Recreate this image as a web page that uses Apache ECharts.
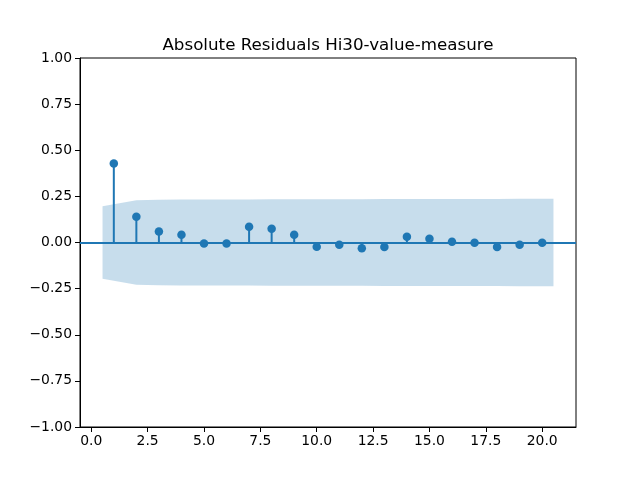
<!DOCTYPE html>
<html>
<head>
<meta charset="utf-8">
<script src="https://cdn.jsdelivr.net/npm/echarts@6/dist/echarts.min.js"></script>
<style>html,body{margin:0;padding:0;background:#fff}#c{width:640px;height:480px}</style>
</head>
<body>
<div id="c"></div>
<script>
var lags = [1,2,3,4,5,6,7,8,9,10,11,12,13,14,15,16,17,18,19,20];
var acfValues = [0.428,0.139,0.059,0.042,-0.006,-0.006,0.085,0.074,0.042,-0.023,-0.012,-0.031,-0.025,0.031,0.020,0.004,-0.002,-0.025,-0.012,-0.002];
var bandX = [0.5,2,3,4,5,6,7,8,9,10,11,12,13,14,15,16,17,18,19,20.5];
var bandUpper = [0.196,0.229,0.232,0.233,0.233,0.233,0.233,0.234,0.235,0.235,0.235,0.235,0.236,0.236,0.236,0.236,0.236,0.236,0.237,0.237];
var xTicks = [0,2.5,5,7.5,10,12.5,15,17.5,20];
var yTicks = [-1,-0.75,-0.5,-0.25,0,0.25,0.5,0.75,1];
var titleText = 'Absolute Residuals Hi30-value-measure';

var C = '#1f77b4';
var font = 'DejaVu Sans';
function fmt(v, d){ var s = Math.abs(v).toFixed(d); return (v < 0 ? '\u2212' : '') + s; }

var chart = echarts.init(document.getElementById('c'), null, {renderer:'canvas'});
chart.setOption({
  animation:false,
  backgroundColor:'#fff',
  title:{text:titleText,left:323,top:32,textAlign:'center',
    textStyle:{fontFamily:font,fontSize:16.7,fontWeight:'normal',color:'#000'}},
  grid:{left:80,right:64,top:58,bottom:53,show:true,borderColor:'#000',borderWidth:1,backgroundColor:'transparent',containLabel:false},
  xAxis:{type:'value',min:-0.5,max:21.5,
    splitLine:{show:false},
    axisLine:{show:true,onZero:false,lineStyle:{color:'#000',width:1}},
    axisTick:{show:true,length:5,lineStyle:{color:'#000'},customValues:xTicks},
    axisLabel:{show:true,customValues:xTicks,margin:7,fontFamily:font,fontSize:13.9,color:'#000',
      formatter:function(v){return fmt(v,1);}}
  },
  yAxis:{type:'value',min:-1,max:1,
    splitLine:{show:false},
    axisLine:{show:true,onZero:false,lineStyle:{color:'#000',width:1}},
    axisTick:{show:true,length:5,lineStyle:{color:'#000'},customValues:yTicks},
    axisLabel:{show:true,customValues:yTicks,margin:8,fontFamily:font,fontSize:13.9,color:'#000',
      formatter:function(v){return fmt(v,2);}}
  },
  series:[
    {type:'line',z:1,symbol:'none',silent:true,
      data:bandX.map(function(x,i){return [x,bandUpper[i]];}),
      lineStyle:{width:0,opacity:0},
      areaStyle:{color:'rgba(31,119,180,0.25)',opacity:1,origin:0}},
    {type:'line',z:1,symbol:'none',silent:true,
      data:bandX.map(function(x,i){return [x,-bandUpper[i]];}),
      lineStyle:{width:0,opacity:0},
      areaStyle:{color:'rgba(31,119,180,0.25)',opacity:1,origin:0}},
    {type:'custom',z:3,silent:true,
      data:lags.map(function(x,i){return [x,acfValues[i]];}),
      renderItem:function(params,api){
        var p0 = api.coord([api.value(0),0]);
        var p1 = api.coord([api.value(0),api.value(1)]);
        return {type:'line',shape:{x1:p0[0],y1:p0[1],x2:p1[0],y2:p1[1]},
          style:{stroke:C,lineWidth:2}};
      }},
    {type:'scatter',z:4,symbol:'circle',symbolSize:8.5,silent:true,
      data:lags.map(function(x,i){return [x,acfValues[i]];}),
      itemStyle:{color:C,opacity:1},
      markLine:{silent:true,symbol:'none',label:{show:false},
        lineStyle:{color:C,width:2,type:'solid',opacity:1},
        data:[{yAxis:0}]}}
  ]
});
</script>
</body>
</html>
